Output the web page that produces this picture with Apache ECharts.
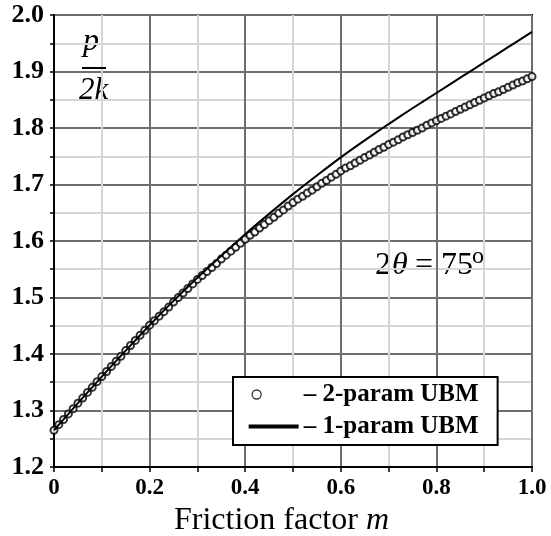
<!DOCTYPE html>
<html>
<head>
<meta charset="utf-8">
<script src="https://cdn.jsdelivr.net/npm/echarts@6/dist/echarts.min.js"></script>
<style>
  html, body { margin: 0; padding: 0; background: #fff; }
  #chart { width: 551px; height: 536px; }
</style>
</head>
<body>
<div id="chart"></div>
<script>
// friction factor m, 2-param UBM sampled every 0.01 (circles)
var mStep = 0.01;
var ubm2 = [
  1.265, 1.275, 1.284, 1.294, 1.303, 1.313, 1.322, 1.332, 1.341, 1.351, 1.360,
  1.369, 1.378, 1.387, 1.396, 1.406, 1.415, 1.424, 1.433, 1.442, 1.451,
  1.459, 1.467, 1.475, 1.483, 1.492, 1.500, 1.508, 1.516, 1.524, 1.532,
  1.539, 1.546, 1.553, 1.560, 1.568, 1.575, 1.582, 1.589, 1.596, 1.603,
  1.610, 1.616, 1.623, 1.629, 1.636, 1.642, 1.649, 1.655, 1.662, 1.668,
  1.674, 1.679, 1.685, 1.690, 1.696, 1.702, 1.707, 1.713, 1.718, 1.724,
  1.729, 1.733, 1.738, 1.743, 1.748, 1.752, 1.757, 1.762, 1.766, 1.771,
  1.775, 1.779, 1.784, 1.788, 1.792, 1.796, 1.800, 1.805, 1.809, 1.813,
  1.817, 1.821, 1.825, 1.829, 1.833, 1.837, 1.841, 1.845, 1.849, 1.853,
  1.857, 1.861, 1.864, 1.868, 1.872, 1.876, 1.880, 1.883, 1.887, 1.891
];
// 1-param UBM (solid line)
var mLine = [0, 0.05, 0.1, 0.15, 0.2, 0.25, 0.3, 0.35, 0.4, 0.45, 0.5,
             0.55, 0.6, 0.65, 0.7, 0.75, 0.8, 0.85, 0.9, 0.95, 1.0];
var ubm1 = [1.265, 1.313, 1.360, 1.406, 1.451, 1.494, 1.535, 1.574, 1.612, 1.648, 1.683,
            1.716, 1.748, 1.778, 1.807, 1.835, 1.862, 1.889, 1.916, 1.943, 1.970];

var seriesNames = ['2-param UBM', '1-param UBM'];
var serif = 'Liberation Serif';

var chart = echarts.init(document.getElementById('chart'));

var circleData = ubm2.map(function (v, i) { return [+(i * mStep).toFixed(2), v]; });
var lineData = mLine.map(function (m, i) { return [m, ubm1[i]]; });

// legend icons: both 50x10 boxes, circle sits at the left like in the paper
var circleIcon = 'path://M0,0M50,10M12.5,5A4.5,4.5,0,1,1,3.5,5A4.5,4.5,0,1,1,12.5,5Z';
var barIcon = 'path://M0,0L50,0L50,4L0,4Z';

chart.setOption({
  animation: false,
  grid: {
    left: 54, right: 19, top: 15, bottom: 69,
    outerBoundsMode: 'none',
    show: true, borderColor: '#000', borderWidth: 2
  },
  xAxis: {
    type: 'value', min: 0, max: 1, interval: 0.2,
    name: 'Friction factor {i|m}',
    nameLocation: 'middle', nameGap: 38,
    nameTextStyle: {
      fontFamily: serif, fontSize: 32, color: '#000', padding: [0, 23, 0, 0],
      rich: { i: { fontFamily: serif, fontSize: 32, fontStyle: 'italic', color: '#000' } }
    },
    axisLine: { lineStyle: { color: '#000', width: 2 } },
    axisTick: { show: true, inside: false, length: 5, lineStyle: { color: '#000', width: 1.5 } },
    minorTick: { show: true, splitNumber: 2, length: 5, lineStyle: { color: '#000', width: 1.5 } },
    axisLabel: {
      fontFamily: serif, fontWeight: 'bold', fontSize: 23, color: '#000', margin: 10,
      formatter: function (v) { return v === 0 ? '0' : v.toFixed(1); }
    },
    splitLine: { show: true, lineStyle: { color: '#6e6e6e', width: 2 } },
    minorSplitLine: { show: true, lineStyle: { color: '#d6d6d6', width: 2 } }
  },
  yAxis: {
    type: 'value', min: 1.2, max: 2.0, interval: 0.1,
    axisLine: { lineStyle: { color: '#000', width: 2 } },
    axisTick: { show: true, length: 4, lineStyle: { color: '#000', width: 1.5 } },
    minorTick: { show: true, splitNumber: 2, length: 4, lineStyle: { color: '#000', width: 1.5 } },
    axisLabel: {
      fontFamily: serif, fontWeight: 'bold', fontSize: 26, color: '#000', margin: 10,
      formatter: function (v) { return v.toFixed(1); }
    },
    splitLine: { show: true, lineStyle: { color: '#6e6e6e', width: 2 } },
    minorSplitLine: { show: true, lineStyle: { color: '#d6d6d6', width: 2 } }
  },
  legend: {
    orient: 'vertical', left: 233, top: 377,
    padding: [5, 19, 6, 15], itemGap: 7,
    itemWidth: 50, itemHeight: 10,
    backgroundColor: '#fff', borderColor: '#000', borderWidth: 2,
    data: [
      { name: seriesNames[0], icon: circleIcon,
        itemStyle: { color: '#fff', borderColor: '#000', borderWidth: 1.3 } },
      { name: seriesNames[1], icon: barIcon, itemStyle: { color: '#000' } }
    ],
    formatter: function (n) { return '\u2013 ' + n; },
    textStyle: { fontFamily: serif, fontWeight: 'bold', fontSize: 25, color: '#000', lineHeight: 24 }
  },
  graphic: [
    { type: 'text', left: 83, top: 26, style: { text: 'p', font: 'italic 32px ' + serif, fill: '#000' } },
    { type: 'line', z: 100, shape: { x1: 82, y1: 68, x2: 106, y2: 68 }, style: { stroke: '#000', lineWidth: 2 } },
    { type: 'text', left: 79, top: 75, style: { text: '2k', font: 'italic 31px ' + serif, fill: '#000' } },
    { type: 'text', left: 375, top: 250, style: { text: '2', font: '32px ' + serif, fill: '#000' } },
    { type: 'text', left: 392, top: 250, style: { text: '\u03b8', font: 'italic 32px ' + serif, fill: '#000' } },
    { type: 'text', left: 415, top: 250, style: { text: '=', font: '32px ' + serif, fill: '#000' } },
    { type: 'text', left: 441, top: 250, style: { text: '75', font: '32px ' + serif, fill: '#000' } },
    { type: 'text', left: 472, top: 245, style: { text: 'o', font: '24px ' + serif, fill: '#000' } }
  ],
  series: [
    {
      name: seriesNames[0], type: 'scatter', data: circleData,
      symbol: 'emptyCircle', symbolSize: 7,
      itemStyle: { color: '#000', borderColor: '#000', borderWidth: 2 },
      z: 2
    },
    {
      name: seriesNames[1], type: 'line', data: lineData,
      symbol: 'none', showSymbol: false, smooth: 0.3,
      lineStyle: { color: '#000', width: 2 },
      itemStyle: { color: '#000' },
      z: 3
    }
  ]
});
</script>
</body>
</html>
